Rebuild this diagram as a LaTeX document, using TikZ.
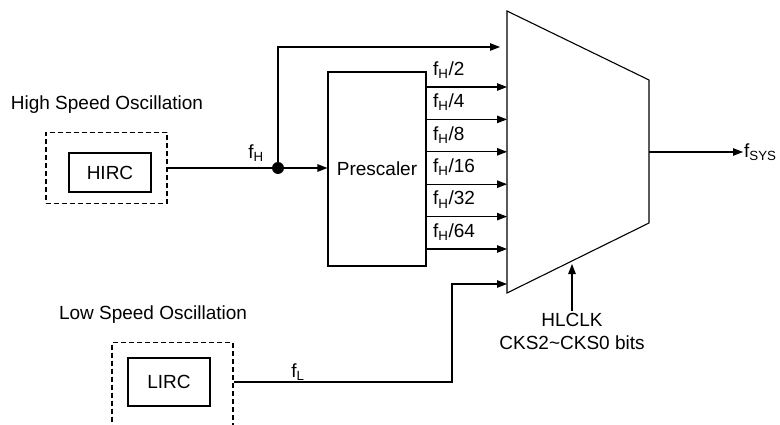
\documentclass[tikz,border=0pt]{standalone}
\usepackage{fontspec}
\setmainfont{Liberation Sans}
\usetikzlibrary{arrows.meta}

\begin{document}
\begin{tikzpicture}[x=1pt,y=-1pt,
        every node/.style={font=\fontsize{19}{23}\selectfont},
        box/.style={draw,line width=1.1pt},
        oscbox/.style={box,line width=1.3pt,dash pattern=on 5pt off 3pt},
        wire/.style={line width=1.1pt},
        sig/.style={wire,-{Triangle[length=10pt,width=7.5pt]}}]
        \clip (0,0) rectangle (780,425);

        % high speed oscillator
        \node (hs) at (107,105) {High Speed Oscillation};
        \node[oscbox,minimum width=121pt,minimum height=71pt] (hosc) at (106.5,168) {};
        \node[box,minimum width=82pt,minimum height=39pt] (hirc) at (110,172.5) {HIRC};

        % low speed oscillator
        \node (ls) at (153,315) {Low Speed Oscillation};
        \node[oscbox,minimum width=121pt,minimum height=100pt,anchor=north] (losc) at (172.5,342) {};
        \node[box,minimum width=82pt,minimum height=48pt] (lirc) at (169,382) {LIRC};

        % prescaler
        \node[circle,fill,inner sep=0pt,minimum size=12pt] (dot) at (278,168) {};
        \node[box,minimum width=98pt,minimum height=194pt] (pre) at (377,169) {Prescaler};
        \node (fh) at (256,153) {f\textsubscript{H}};
        \draw[wire] (hosc.east) -- (dot);
        \draw[sig] (dot) -- (dot -| pre.west);

        % clock mux
        \coordinate (mux-tl) at (507,11);
        \coordinate (mux-tr) at (649,80);
        \coordinate (mux-br) at (649,223);
        \coordinate (mux-bl) at (507,293);
        \draw[wire] (mux-tl) -- (mux-tr) -- (mux-br) -- (mux-bl) -- cycle;

        \coordinate (byp) at (500,47);
        \draw[sig] (dot) |- (byp);

        \foreach \i/\rate in {1/2,2/4,3/8,4/16,5/32,6/64}{
            \coordinate (in-\i) at (507,{54.6+32.4*\i});
            \draw[sig] (pre.east |- in-\i) -- (in-\i);
            \node[anchor=west,inner sep=1pt] (div-\i) at (432,{37.6+32.4*\i}) {f\textsubscript{H}/\rate};
        }

        % low speed input
        \node (fl) at (298,372) {f\textsubscript{L}};
        \coordinate (bend) at (452,284);
        \coordinate (in-7) at (507,284);
        \draw[sig] (losc.east |- lirc) -| (bend) -- (in-7);

        % output and select
        \coordinate (mux-out) at (649,152);
        \node[anchor=west,inner sep=1pt] (fsys) at (743,152) {f\textsubscript{SYS}};
        \draw[sig] (mux-out) -- (fsys.west);
        \node[align=center,inner sep=2pt] (sel) at (572,331) {HLCLK\\CKS2\textasciitilde CKS0 bits};
        \coordinate (sel-in) at (572,264);
        \draw[sig] (sel.north) -- (sel-in);
\end{tikzpicture}
\end{document}
